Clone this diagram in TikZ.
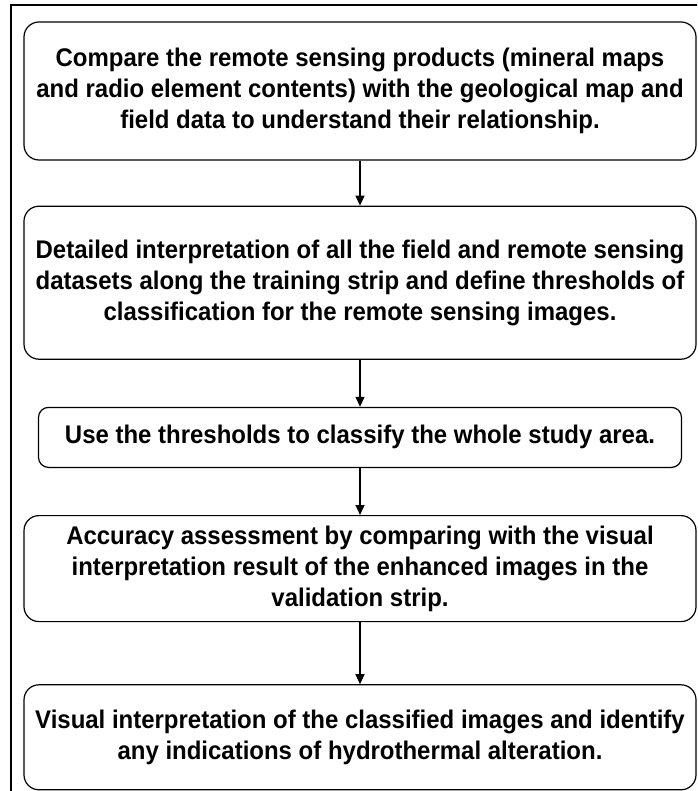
\documentclass[tikz,border=0pt]{standalone}
\usepackage{fontspec}
\setmainfont{Liberation Sans}[FakeStretch=0.94]
\usepackage{tikz}
\usetikzlibrary{arrows.meta,positioning}

\begin{document}
\begin{tikzpicture}[
  font=\fontsize{25.5pt}{31pt}\selectfont\bfseries,
  box/.style={draw, rounded corners=15pt, align=center, line width=1.2pt,
              minimum width=672pt, inner sep=0pt},
  ar/.style={-{Triangle[length=10pt,width=9pt]}, line width=1.2pt}
]
\useasboundingbox (0,0) rectangle (697pt,-791pt);
\clip (0,0) rectangle (697pt,-791pt);
% ---- outer frame --------------------------------------------------------
\draw[line width=1.6pt] (11pt,-5pt) rectangle (720pt,-820pt);

% ---- steps --------------------------------------------------------------
\node[box, minimum height=138pt] (compare) at (360pt,-91pt)
  {Compare the remote sensing products (mineral maps\\
   and radio element contents) with the geological map and\\
   field data to understand their relationship.};
\node[box, minimum height=153pt, below=45pt of compare] (interp)
  {Detailed interpretation of all the field and remote sensing\\
   datasets along the training strip and define thresholds of\\
   classification for the remote sensing images.};
\node[box, rounded corners=10pt, minimum width=643pt, minimum height=60pt,
      below=47pt of interp] (classify)
  {Use the thresholds to classify the whole study area.};
\node[box, minimum height=106pt, below=47pt of classify] (accuracy)
  {Accuracy assessment by comparing with the visual\\
   interpretation result of the enhanced images in the\\
   validation strip.};
\node[box, minimum height=105pt, below=62pt of accuracy] (visual)
  {Visual interpretation of the classified images and identify\\
   any indications of hydrothermal alteration.};

% ---- flow ---------------------------------------------------------------
\draw[ar] (compare) -- (interp);
\draw[ar] (interp) -- (classify);
\draw[ar] (classify) -- (accuracy);
\draw[ar] (accuracy) -- (visual);
\end{tikzpicture}
\end{document}
